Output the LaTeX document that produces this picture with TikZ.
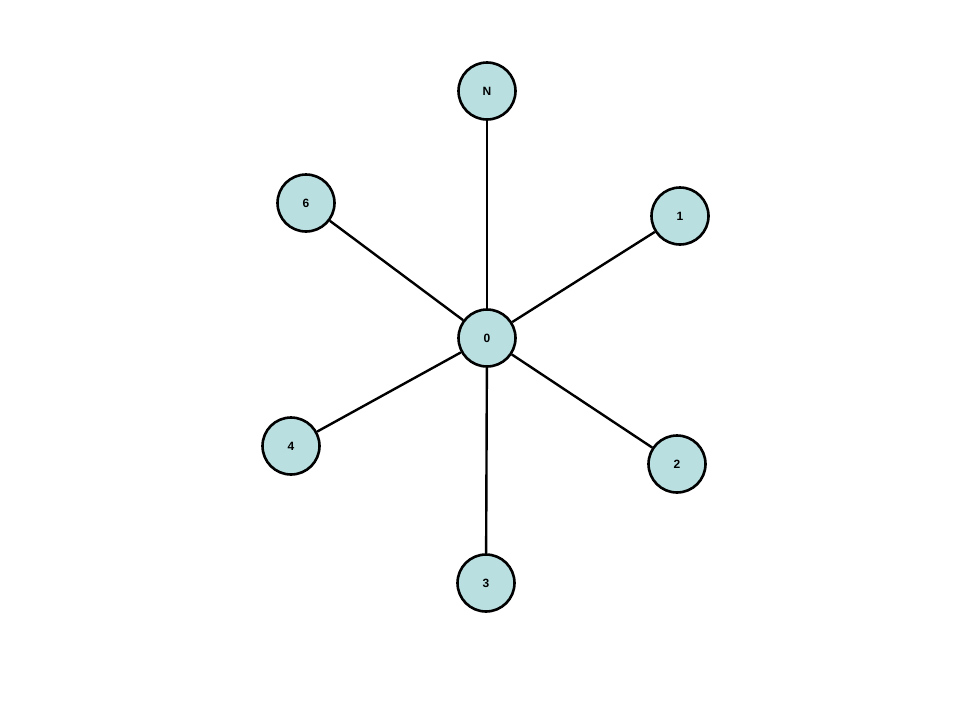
\documentclass[tikz,border=0pt]{standalone}
\usepackage{fontspec}
\setmainfont{Liberation Sans}
\definecolor{nodefill}{HTML}{B9DFE1}
\begin{document}
\begin{tikzpicture}[x=1pt,y=-1pt,
  vtx/.style={circle,draw=black,line width=2.6pt,fill=nodefill,minimum size=57pt,inner sep=0pt,font=\fontsize{12}{14}\selectfont\bfseries},
  edge/.style={line width=2.4pt}]
\useasboundingbox[fill=white] (0,0) rectangle (960,720);
\node[vtx] (0) at (487,338) {0};
\node[vtx] (N) at (487,91) {N};
\node[vtx] (6) at (306,203) {6};
\node[vtx] (1) at (680,216) {1};
\node[vtx] (4) at (291,446) {4};
\node[vtx] (2) at (677,464) {2};
\node[vtx] (3) at (486,583) {3};
\foreach \t in {N,6,1,4,2,3} \draw[edge] (0) -- (\t);
\end{tikzpicture}
\end{document}
